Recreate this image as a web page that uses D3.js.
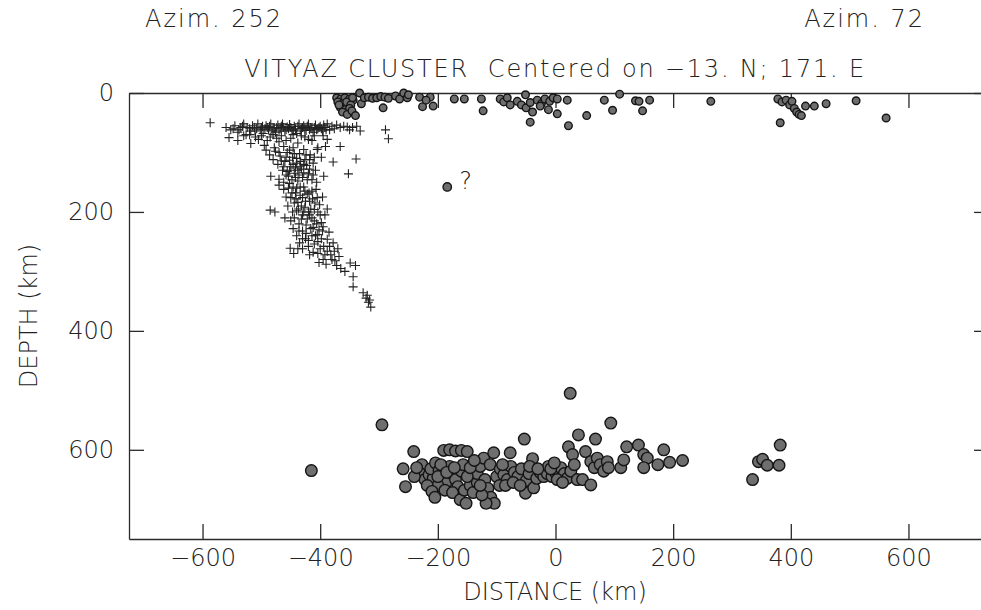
<!DOCTYPE html>
<html lang="en">
<head>
<meta charset="UTF-8">
<title>Vityaz Cluster depth section</title>
<script src="https://d3js.org/d3.v7.min.js"></script>
<style>
  body { margin: 0; background: #fff; }
  text { font-family: "DejaVu Sans", sans-serif; font-weight: 200; fill: #222; }
</style>
</head>
<body>
<svg id="chart"></svg>
<script>
// tick values
const xTicks = [-600, -400, -200, 0, 200, 400, 600];
const yTicks = [0, 200, 400, 600];

// intermediate-depth events (plotted as crosses): [distance km, depth km]
const crossEvents = [
  [-587,50],[-560,58],[-552,62],[-545,55],[-540,66],[-535,58],[-530,52],[-526,70],[-520,60],[-515,55],
  [-511,64],[-506,52],[-500,58],[-497,68],[-492,55],[-488,62],[-484,52],[-480,58],[-476,66],[-472,54],
  [-468,60],[-464,52],[-460,64],[-456,57],[-452,53],[-448,62],[-444,56],[-440,68],[-436,52],[-432,60],
  [-428,55],[-424,63],[-420,52],[-416,58],[-412,66],[-408,54],[-404,60],[-400,56],[-396,64],[-392,58],
  [-388,52],[-384,62],[-380,56],[-376,60],[-372,54],[-366,58],[-360,56],[-354,57],[-345,58],[-338,56],
  [-548,60],[-538,62],[-532,56],[-524,58],[-518,64],[-512,58],[-508,60],[-502,62],[-498,56],[-494,60],
  [-490,58],[-486,56],[-482,64],[-478,60],[-474,58],[-470,64],[-466,56],[-462,58],[-458,62],[-454,60],
  [-450,58],[-446,64],[-442,60],[-438,56],[-434,64],[-430,58],[-426,60],[-422,56],[-418,62],[-414,60],
  [-410,58],[-406,62],[-402,58],[-398,60],[-394,54],[-390,62],
  [-555,75],[-540,80],[-530,72],[-518,85],[-505,78],[-495,88],[-485,74],[-470,82],[-462,90],[-450,76],
  [-438,84],[-426,74],[-414,80],[-404,92],[-395,72],[-388,78],[-366,90],[-350,62],[-332,64],[-289,62],
  [-284,77],[-391,90],[-378,116],[-339,111],[-352,136],
  [-520,70],[-510,74],[-500,72],[-490,80],[-480,70],[-474,76],[-466,72],[-458,80],[-446,70],[-432,72],
  [-420,78],[-410,72],
  [-492,96],[-486,104],[-480,112],[-476,98],[-472,120],[-468,106],[-464,130],[-460,115],[-456,100],[-454,140],
  [-450,124],[-447,108],[-444,135],[-440,118],[-438,148],[-435,102],[-432,128],[-430,142],[-426,112],[-423,122],
  [-420,136],[-417,104],[-414,146],[-412,118],[-408,130],[-405,95],[-470,145],[-484,140],[-462,150],[-446,92],
  [-428,95],[-398,108],[-394,140],[-452,113],[-442,126],[-436,138],[-456,132],[-448,146],
  [-478,92],[-470,100],[-466,114],[-458,108],[-452,96],[-444,102],[-440,110],[-434,115],[-428,120],[-424,104],
  [-418,112],[-410,108],[-462,124],[-458,138],[-452,130],[-446,120],[-442,142],[-438,130],[-434,124],[-428,134],
  [-422,146],[-418,128],[-412,138],[-406,150],
  [-470,155],[-462,162],[-458,175],[-452,152],[-448,168],[-444,185],[-440,160],[-437,195],[-434,172],[-430,205],
  [-428,158],[-425,182],[-422,212],[-419,168],[-416,195],[-413,178],[-410,215],[-407,162],[-404,200],[-401,188],
  [-398,218],[-396,175],[-447,200],[-455,190],[-441,178],[-432,190],[-426,165],[-418,205],[-409,185],[-477,200],
  [-460,210],[-450,215],[-436,220],[-392,205],[-388,195],[-485,197],
  [-454,160],[-450,176],[-446,158],[-442,168],[-438,184],[-434,158],[-430,176],[-426,192],[-422,170],[-418,182],
  [-414,165],[-410,196],[-405,176],[-400,205],[-444,210],[-440,198],[-432,212],[-428,200],[-424,222],[-420,200],
  [-414,210],[-406,220],[-402,230],
  [-446,228],[-440,240],[-435,252],[-451,261],[-430,232],[-425,245],[-420,258],[-416,228],[-412,268],[-408,240],
  [-404,250],[-400,262],[-396,232],[-392,272],[-388,246],[-384,258],[-380,280],[-376,266],[-372,290],[-368,275],
  [-365,295],[-430,262],[-418,272],[-402,285],[-390,288],[-385,234],[-378,252],[-445,270],[-438,262],[-412,226],
  [-395,225],
  [-436,232],[-430,245],[-424,236],[-420,248],[-414,240],[-410,254],[-405,238],[-398,245],[-394,258],[-388,266],
  [-382,272],[-375,282],[-370,262],[-395,280],[-404,270],
  [-358,300],[-349,286],[-344,309],[-340,290],[-344,326],[-327,336],[-322,345],[-318,352],[-314,360],[-320,340],
  [-316,348]
];

// shallow events (small dots)
const shallowEvents = [
  [-372,8],[-365,10],[-358,8],[-350,10],[-344,12],[-370,15],[-362,18],[-355,15],[-348,20],[-366,24],
  [-358,28],[-350,26],[-362,32],[-354,36],[-346,30],[-340,38],[-368,20],[-345,8],
  [-333,0],[-330,18],[-325,8],[-318,7],[-311,9],[-304,8],[-297,6],[-290,7],[-284,9],[-293,25],
  [-272,5],[-265,10],[-258,0],[-252,8],[-250,3],[-231,7],[-226,23],[-213,7],[-208,22],[-220,12],
  [-172,10],[-155,10],[-126,10],[-123,30],
  [-94,10],[-88,15],[-82,8],[-77,20],[-51,3],[-65,14],[-58,20],[-50,25],[-43,16],[-39,32],
  [-43,49],[-31,12],[-24,18],[-18,10],[-10,14],[-4,8],[3,10],[-12,28],[3,35],[-26,22],
  [20,12],[22,55],[53,38],[83,12],[97,29],[109,2],[136,13],[142,14],[148,30],[160,12],
  [264,14],[378,10],[385,15],[392,12],[398,20],[402,14],[406,26],[410,32],[414,36],[418,38],
  [382,50],[425,22],[440,22],[460,18],[511,13],[562,42]
];

// questionable event
const queryEvent = [[-184,158]];

// deep events (large dots)
const deepEvents = [
  [-415,635],[-295,558],[25,505],[94,555],[335,650],[345,620],[352,616],[360,626],[380,626],[382,592],
  [-259,632],[-255,662],[-241,603],[-227,625],[-230,640],[-222,650],[-215,642],[-208,648],[-212,632],[-204,622],
  [-198,635],[-192,645],[-186,655],[-180,628],[-176,640],[-170,650],[-166,662],[-160,636],[-157,625],[-190,601],
  [-180,600],[-170,602],[-160,601],[-150,603],[-200,660],[-188,668],[-175,672],[-162,684],[-155,668],[-145,660],
  [-140,672],[-133,655],[-133,640],[-128,628],[-122,614],[-111,625],[-105,605],[-120,650],[-115,665],[-110,680],
  [-104,690],[-118,690],[-125,676],[-100,645],[-95,660],[-94,632],[-88,642],[-82,650],[-77,605],[-76,628],
  [-70,638],[-64,645],[-58,632],[-53,582],[-50,652],[-51,673],[-45,640],[-39,615],[-37,664],[-32,648],
  [-26,638],[-20,645],[-14,640],[-12,628],[-6,645],[0,638],[6,642],[9,630],[15,640],[20,648],
  [26,636],[22,595],[29,608],[39,575],[32,625],[37,650],[46,650],[51,603],[60,659],[60,620],
  [68,582],[66,630],[71,614],[76,625],[82,636],[88,620],[90,630],[111,630],[116,617],[121,595],
  [141,592],[150,608],[156,614],[150,630],[174,625],[184,600],[194,621],[216,618],
  [-240,645],[-236,630],[-218,660],[-210,670],[-200,645],[-195,625],[-185,638],[-172,630],[-150,645],[-145,630],
  [-138,618],[-128,660],[-152,690],[-205,680],
  [-90,625],[-85,660],[-72,655],[-60,660],[-44,628],[-30,632],[-8,632],[3,650],[12,655],[-2,622]
];

const W = 981, H = 610;
const svg = d3.select("#chart").attr("width", W).attr("height", H);

const x = d3.scaleLinear().domain([-725, 725]).range([129, 982]);
const y = d3.scaleLinear().domain([0, 750]).range([93, 539]);

const ink = "#2a2a2a";

// axes
const bottomAxis = svg.append("g")
    .attr("transform", `translate(0,${y(750)})`)
    .call(d3.axisBottom(x).tickValues(xTicks).tickSize(-15).tickSizeOuter(0).tickPadding(10)
        .tickFormat(d => d < 0 ? "\u2212" + Math.abs(d) : d));

const topAxis = svg.append("g")
    .attr("transform", `translate(0,${y(0)})`)
    .call(d3.axisTop(x).tickValues(xTicks).tickSize(-15).tickSizeOuter(0).tickFormat(""));

const leftAxis = svg.append("g")
    .attr("transform", `translate(${x(-725)},0)`)
    .call(d3.axisLeft(y).tickValues(yTicks).tickSize(-15).tickSizeOuter(0).tickPadding(15));

const rightAxis = svg.append("g")
    .attr("transform", `translate(${x(725)},0)`)
    .call(d3.axisRight(y).tickValues(yTicks).tickSize(-8).tickSizeOuter(0).tickFormat(""));

[bottomAxis, topAxis, leftAxis, rightAxis].forEach(g => {
  g.attr("font-family", null).attr("font-size", null);
  g.selectAll("path, line").attr("stroke", ink).attr("stroke-width", 1.3);
  g.selectAll("text").style("font-size", "24px").attr("fill", "#222");
});

// crosses
const arm = 4.5;
svg.append("g").selectAll("path")
    .data(crossEvents)
    .enter()
    .append("path")
    .attr("d", d => `M${x(d[0]) - arm},${y(d[1])}h${2 * arm}M${x(d[0])},${y(d[1]) - arm}v${2 * arm}`)
    .attr("stroke", "#222")
    .attr("stroke-width", 1.1)
    .attr("fill", "none");

// dots
function dots(data, r) {
  svg.append("g").selectAll("circle")
      .data(data)
      .enter()
      .append("circle")
      .attr("cx", d => x(d[0]))
      .attr("cy", d => y(d[1]))
      .attr("r", r)
      .attr("fill", "#6e6e6e")
      .attr("stroke", "#151515")
      .attr("stroke-width", 1.4);
}
dots(shallowEvents, 3.8);
dots(deepEvents, 5.8);
dots(queryEvent, 4.2);

svg.append("text")
    .attr("x", x(queryEvent[0][0]) + 12)
    .attr("y", y(queryEvent[0][1]) + 2)
    .style("font-size", "24px")
    .text("?");

// titles
svg.append("text")
    .attr("x", 145).attr("y", 27)
    .style("font-size", "24px")
    .style("letter-spacing", "2px")
    .text("Azim. 252");

svg.append("text")
    .attr("x", 925).attr("y", 27)
    .style("font-size", "24px")
    .style("letter-spacing", "2px")
    .style("text-anchor", "end")
    .text("Azim. 72");

svg.append("text")
    .attr("x", 555).attr("y", 77)
    .style("font-size", "24px")
    .style("letter-spacing", "1.8px")
    .style("white-space", "pre")
    .style("text-anchor", "middle")
    .text("VITYAZ CLUSTER  Centered on \u221213. N; 171. E");

svg.append("text")
    .attr("x", 555).attr("y", 600)
    .style("font-size", "24px")
    .style("text-anchor", "middle")
    .text("DISTANCE (km)");

svg.append("text")
    .attr("transform", `translate(37,${(y(0) + y(750)) / 2}) rotate(-90)`)
    .style("font-size", "24px")
    .style("text-anchor", "middle")
    .text("DEPTH (km)");
</script>
</body>
</html>
